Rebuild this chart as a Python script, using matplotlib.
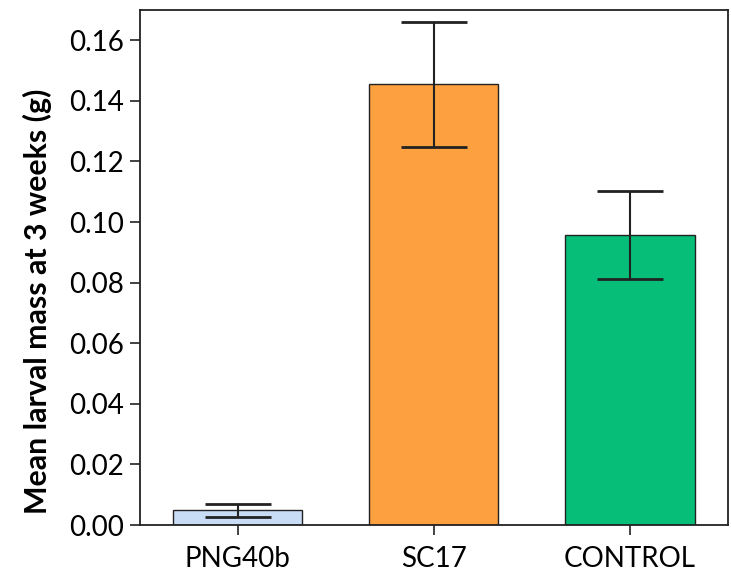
import matplotlib
matplotlib.use("Agg")
import matplotlib.pyplot as plt

categories = ["PNG40b", "SC17", "CONTROL"]
means = [0.0048, 0.1455, 0.0957]
errors = [0.0022, 0.0207, 0.0146]
colors = ["#C8DCF5", "#FCA040", "#06BE78"]
yticks = [0.00, 0.02, 0.04, 0.06, 0.08, 0.10, 0.12, 0.14, 0.16]

plt.rcParams['font.family'] = ['Lato', 'DejaVu Sans']

fig = plt.figure(figsize=(7.31, 5.73), dpi=100)
ax = fig.add_axes([139.5/731, 1 - 525/573, (728 - 139.5)/731, (525 - 10)/573])

x = range(len(categories))
ax.bar(x, means, width=0.66, color=colors, edgecolor="#222222", linewidth=1.0, zorder=2)
ax.errorbar(x, means, yerr=errors, fmt='none', ecolor="#222222", elinewidth=1.5,
            capsize=23.5, capthick=2.0, zorder=3)

ax.set_xlim(-0.5, 2.5)
ax.set_ylim(0, 0.17)
ax.set_yticks(yticks)
ax.set_yticklabels([f"{v:.2f}" for v in yticks])
ax.set_xticks(list(x))
ax.set_xticklabels(categories)
ax.tick_params(axis='both', direction='out', length=7, width=1.2, labelsize=20, pad=4, color="#222222")
ax.tick_params(axis='x', pad=8)
for s in ax.spines.values():
    s.set_linewidth(1.3)
    s.set_color("#222222")

ax.set_ylabel("Mean larval mass at 3 weeks (g)", fontsize=21.8, fontweight='bold')
ax.yaxis.set_label_coords(-0.149, 0.434)

fig.savefig("out.png", dpi=100)
